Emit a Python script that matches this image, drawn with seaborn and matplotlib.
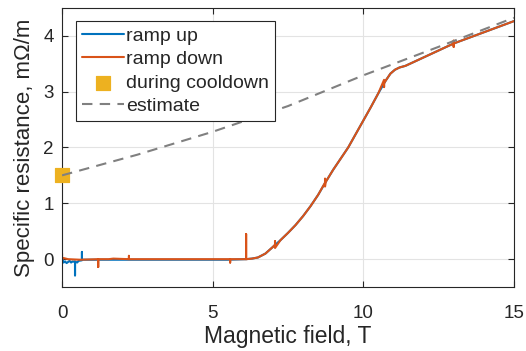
import numpy as np
import pandas as pd
import matplotlib
matplotlib.use("Agg")
import matplotlib.pyplot as plt
import seaborn as sns

# ramp up: noisy near zero field, then follows the transition
up_field = [0.0, 0.05, 0.1, 0.15, 0.2, 0.25, 0.3, 0.35, 0.43, 0.43, 0.43, 0.5, 0.55,
            0.66, 0.66, 0.66, 0.8, 1.5, 2.5, 3.5, 4.5, 5.5, 6.1, 6.3, 6.5, 6.75, 7.0,
            7.25, 7.5, 7.75, 8.0, 8.25, 8.5, 8.75, 9.0, 9.25, 9.5, 9.75, 10.0, 10.25,
            10.5, 10.75, 10.9, 11.05, 11.2, 11.4, 13.0, 15.0]
up_res = [0.02, -0.06, -0.04, -0.07, -0.05, -0.03, -0.06, -0.04, -0.05, -0.29, -0.04,
          -0.06, -0.03, -0.02, 0.13, -0.01, -0.01, -0.01, -0.01, -0.01, -0.01, -0.01,
          0.0, 0.01, 0.03, 0.1, 0.22, 0.34, 0.47, 0.61, 0.77, 0.95, 1.15, 1.38, 1.6,
          1.8, 2.0, 2.24, 2.48, 2.72, 2.97, 3.2, 3.32, 3.39, 3.43, 3.46, 3.86, 4.26]

# ramp down: from 15 T back to zero, with a few glitches
down_field = [15.0, 13.0, 13.0, 13.0, 13.0, 11.4, 11.2, 11.05, 10.9, 10.75, 10.69,
              10.69, 10.69, 10.5, 10.25, 10.0, 9.75, 9.5, 9.25, 9.0, 8.75, 8.73, 8.73,
              8.73, 8.5, 8.25, 8.0, 7.75, 7.5, 7.25, 7.07, 7.07, 7.07, 7.0, 6.75, 6.5,
              6.3, 6.11, 6.11, 6.11, 5.58, 5.58, 5.58, 4.5, 3.5, 2.22, 2.22, 2.22, 1.7,
              1.55, 1.2, 1.2, 1.2, 0.6, 0.2, 0.05, 0.0, 0.0]
down_res = [4.26, 3.86, 3.80, 3.91, 3.86, 3.46, 3.43, 3.39, 3.32, 3.2, 3.15, 3.08,
            3.21, 2.97, 2.72, 2.48, 2.24, 2.0, 1.8, 1.6, 1.38, 1.30, 1.44, 1.37, 1.15,
            0.95, 0.77, 0.61, 0.47, 0.34, 0.20, 0.32, 0.26, 0.22, 0.1, 0.03, 0.01, 0.0,
            0.45, 0.0, 0.0, -0.06, 0.0, 0.0, 0.0, 0.0, 0.06, 0.0, 0.01, 0.0, 0.0,
            -0.14, 0.0, -0.01, 0.0, 0.02, 0.0, 0.1]

cool_field = [0.0]
cool_res = [1.5]

est_field = [0.0, 2.5, 5.0, 7.5, 10.0, 12.5, 15.0]
est_res = [1.50, 1.87, 2.28, 2.74, 3.29, 3.80, 4.32]

blue = "#0072BD"
orange = "#D95319"
yellow = "#EDB120"
dark = "#262626"

sns.set_style("ticks")
plt.rcParams["font.family"] = ["Liberation Sans", "DejaVu Sans"]

fig = plt.figure(figsize=(5.26, 3.51), dpi=100)
ax = fig.add_axes([0.118, 0.182, 0.859, 0.796])

sns.lineplot(x=up_field, y=up_res, sort=False, estimator=None, color=blue,
             linewidth=1.5, label="ramp up", ax=ax)
sns.lineplot(x=down_field, y=down_res, sort=False, estimator=None, color=orange,
             linewidth=1.5, label="ramp down", ax=ax)
sns.scatterplot(x=cool_field, y=cool_res, marker="s", s=115, color=yellow,
                edgecolor=yellow, label="during cooldown", ax=ax, clip_on=False, zorder=3)
sns.lineplot(x=est_field, y=est_res, color="#808080", linewidth=1.5,
             linestyle=(0, (5, 3.5)), label="estimate", ax=ax, zorder=4)

ax.set_xlim(0, 15)
ax.set_ylim(-0.5, 4.5)
ax.set_xticks([0, 5, 10, 15])
ax.set_yticks([0, 1, 2, 3, 4])
ax.grid(True, color="#e3e3e3", linewidth=0.8)
ax.set_axisbelow(True)
ax.tick_params(direction="in", top=True, right=True, length=4, labelsize=13.5,
               color=dark, labelcolor=dark)
ax.tick_params(axis="x", pad=13)
ax.tick_params(axis="y", pad=6)
for s in ax.spines.values():
    s.set_color(dark)
    s.set_linewidth(0.8)
ax.set_xlabel("Magnetic field, T", fontsize=16.5, color=dark, labelpad=2)
ax.set_ylabel("Specific resistance, mΩ/m", fontsize=16, color=dark, labelpad=6)

leg = ax.legend(loc="upper left", fontsize=14, frameon=True, fancybox=False,
                handlelength=2.2, handletextpad=0.1, borderaxespad=0.7,
                labelspacing=0.3, borderpad=0.3)
leg.get_frame().set_edgecolor(dark)
leg.get_frame().set_linewidth(0.8)
leg.get_frame().set_alpha(1)

fig.savefig("out.png", dpi=100)
